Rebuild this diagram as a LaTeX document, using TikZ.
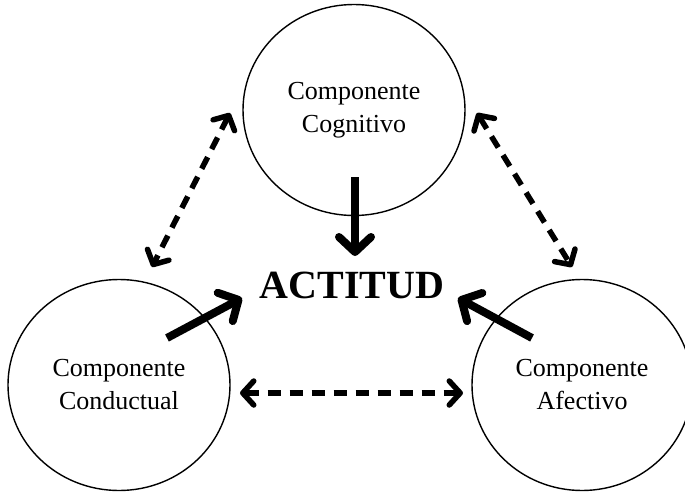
\documentclass[tikz,border=0pt]{standalone}
\usepackage{fontspec}
\setmainfont{Liberation Serif}
\usetikzlibrary{arrows.meta,positioning,shapes.geometric}

\tikzset{
  comp/.style={ellipse, draw, line width=1.4pt, minimum width=222pt, minimum height=211pt,
    inner sep=0pt, align=center, font=\fontsize{26}{33}\selectfont},
  flecha/.style={line width=8pt, -{Straight Barb[round, length=15pt, width=32pt]}},
  relacion/.style={line width=5.5pt, dash pattern=on 13pt off 9pt,
    {Straight Barb[round, length=11pt, width=24pt]}-{Straight Barb[round, length=11pt, width=24pt]}}
}

\begin{document}
\begin{tikzpicture}[x=1pt,y=-1pt]
\useasboundingbox (0,0) rectangle (685,492);

\node[comp] (cog) at (354,110) {Componente\\Cognitivo};
\node[comp] (cond) at (119,385) {Componente\\Conductual};
\node[comp, minimum width=220pt] (afec) at (582,385) {Componente\\Afectivo};
\node[font=\fontsize{40}{40}\selectfont\bfseries, inner sep=0pt] (act) at (352,285) {ACTITUD};

% puntos de los conectores
\coordinate (cogS) at (355,177);
\coordinate (actN) at (355,256);
\coordinate (condS) at (167,338);
\coordinate (actW) at (242,298);
\coordinate (afecS) at (532,338);
\coordinate (actE) at (458,298);

\draw[flecha] (cogS) -- (actN);
\draw[flecha] (condS) -- (actW);
\draw[flecha] (afecS) -- (actE);

\coordinate (cogW) at (230,113);
\coordinate (condN) at (152,267);
\coordinate (cogE) at (477,113);
\coordinate (afecN) at (572,267);
\coordinate (condE) at (240,393);
\coordinate (afecW) at (463,393);

\draw[relacion] (cogW) -- (condN);
\draw[relacion] (cogE) -- (afecN);
\draw[relacion] (condE) -- (afecW);
\end{tikzpicture}
\end{document}
